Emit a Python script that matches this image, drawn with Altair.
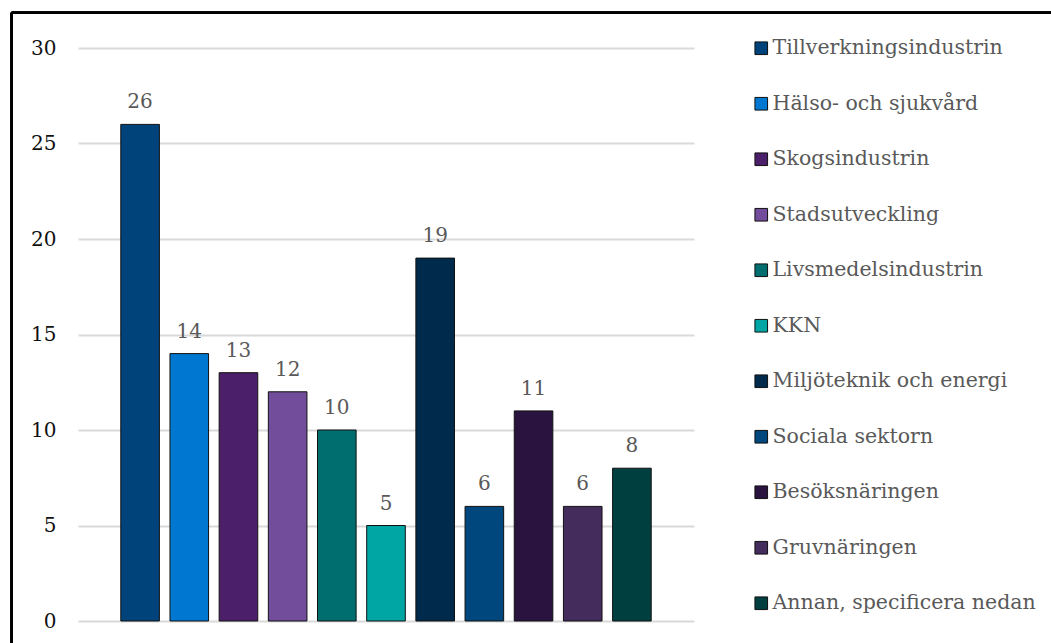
import altair as alt
import pandas as pd

categories = [
    "Tillverkningsindustrin",
    "Hälso- och sjukvård",
    "Skogsindustrin",
    "Stadsutveckling",
    "Livsmedelsindustrin",
    "KKN",
    "Miljöteknik och energi",
    "Sociala sektorn",
    "Besöksnäringen",
    "Gruvnäringen",
    "Annan, specificera nedan",
]
values = [26, 14, 13, 12, 10, 5, 19, 6, 11, 6, 8]
colors = [
    "#00437a", "#0077d0", "#4b1f69", "#714d9b", "#006e6e", "#00a6a3",
    "#002a4b", "#00477d", "#2b1340", "#442c5c", "#003f3f",
]
y_ticks = [0, 5, 10, 15, 20, 25, 30]

df = pd.DataFrame({"kategori": categories, "antal": values})

FONT = "DejaVu Serif"
W, H = 616, 573
PL, PT = 78, 48

xenc = alt.X(
    "kategori:N", sort=categories, axis=None,
    scale=alt.Scale(paddingInner=0.215, paddingOuter=0.87),
)

bars = alt.Chart(df).mark_bar(stroke="#111111", strokeWidth=1).encode(
    x=xenc,
    y=alt.Y(
        "antal:Q",
        scale=alt.Scale(domain=[0, 30], nice=False),
        axis=alt.Axis(
            values=y_ticks, title=None, domain=False, ticks=False,
            labelFont=FONT, labelFontSize=20, labelColor="#111111",
            labelPadding=22, gridColor="#d9d9d9", gridWidth=2,
        ),
    ),
    color=alt.Color(
        "kategori:N",
        sort=categories,
        scale=alt.Scale(domain=categories, range=colors),
        legend=alt.Legend(
            title=None, orient="none", legendX=673, legendY=-10,
            symbolType="square", symbolSize=160, symbolStrokeColor="#111111",
            symbolStrokeWidth=1, symbolOpacity=1,
            labelFont=FONT, labelFontSize=20.5, labelColor="#595959",
            labelLimit=400, labelOffset=1, rowPadding=34.5, padding=0,
        ),
    ),
)

labels = alt.Chart(df).mark_text(
    font=FONT, fontSize=20, color="#595959", baseline="alphabetic", dy=-16
).encode(x=xenc, y="antal:Q", text="antal:Q")

frame_top = alt.Chart(df).mark_rule(color="#000000", strokeWidth=2).encode(
    x=alt.value(11.7 - PL), x2=alt.value(1100 - PL), y=alt.value(12.7 - PT)
)
frame_left = alt.Chart(df).mark_rule(color="#000000", strokeWidth=2).encode(
    x=alt.value(11.7 - PL), y=alt.value(12.7 - PT), y2=alt.value(700 - PT)
)

chart = (
    alt.layer(bars, labels, frame_top, frame_left)
    .properties(
        width=W, height=H,
        background="white",
        autosize=alt.AutoSizeParams(type="none"),
        padding={"left": PL, "top": PT, "right": 1051 - PL - W, "bottom": 643 - PT - H},
    )
    .configure_view(strokeWidth=0, stroke="transparent")
)

chart.save("out.html", embed_options={"renderer": "svg", "actions": False})
